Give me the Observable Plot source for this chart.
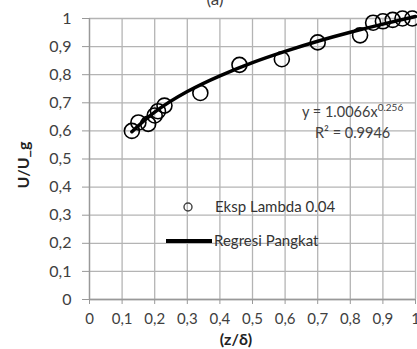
<!DOCTYPE html>
<html>
<head>
<meta charset="utf-8">
<script src="https://cdn.jsdelivr.net/npm/d3@7"></script>
<script src="https://cdn.jsdelivr.net/npm/@observablehq/plot@0.6"></script>
<style>
  html, body { margin: 0; padding: 0; background: #fff; }
</style>
</head>
<body>
<div id="chart"></div>
<script>
// Measured points (Eksp Lambda 0.04)
const zDelta = [0.13, 0.15, 0.18, 0.20, 0.21, 0.23, 0.34, 0.46, 0.59, 0.70, 0.83, 0.87, 0.90, 0.93, 0.96, 0.99];
const uRatio = [0.60, 0.63, 0.625, 0.655, 0.67, 0.69, 0.735, 0.835, 0.855, 0.915, 0.94, 0.985, 0.99, 0.995, 1.0, 1.0];
// Regression curve (Regresi Pangkat)
const fitX = [0.13, 0.2, 0.3, 0.4, 0.5, 0.6, 0.7, 0.8, 0.9, 1.0];
const fitY = [0.597, 0.667, 0.740, 0.796, 0.843, 0.883, 0.919, 0.951, 0.980, 1.007];
// Ticks
const ticks = [0, 0.1, 0.2, 0.3, 0.4, 0.5, 0.6, 0.7, 0.8, 0.9, 1];
const tickLabels = ["0", "0,1", "0,2", "0,3", "0,4", "0,5", "0,6", "0,7", "0,8", "0,9", "1"];
const seriesNames = ["Eksp Lambda 0.04", "Regresi Pangkat"];
const equation = ["y = 1.0066x", "0.256"];
const rSquared = "R² = 0.9946";

const points = zDelta.map((x, i) => ({x, y: uRatio[i]}));
const fit = fitX.map((x, i) => ({x, y: fitY[i]}));
const fmt = d => tickLabels[Math.round(d * 10)];

function annotations(index, scales, values, dims) {
  const g = d3.create("svg:g").attr("font-family", "Lato, 'Open Sans', sans-serif")
    .attr("text-anchor", "start");
  // cropped title
  g.append("text").attr("x", 215).attr("y", 5).attr("text-anchor", "middle")
    .attr("font-size", 17).attr("fill", "#404040").text("(a)");
  // equation
  const eq = g.append("text").attr("x", 302).attr("y", 117).attr("font-size", 14.5).attr("fill", "#404040");
  eq.append("tspan").text(equation[0]);
  eq.append("tspan").attr("dy", -6).attr("font-size", 10).text(equation[1]);
  g.append("text").attr("x", 315).attr("y", 138).attr("font-size", 14.5).attr("fill", "#404040").text(rSquared);
  // legend
  g.append("circle").attr("cx", 188).attr("cy", 207).attr("r", 4)
    .attr("fill", "none").attr("stroke", "#404040").attr("stroke-width", 1.4);
  g.append("text").attr("x", 215).attr("y", 207).attr("dy", "0.35em").attr("font-size", 15)
    .attr("fill", "#333").text(seriesNames[0]);
  g.append("line").attr("x1", 166).attr("x2", 212).attr("y1", 241).attr("y2", 241)
    .attr("stroke", "black").attr("stroke-width", 4);
  g.append("text").attr("x", 214).attr("y", 241).attr("dy", "0.35em").attr("font-size", 15)
    .attr("fill", "#333").text(seriesNames[1]);
  // axis labels
  g.append("text").attr("x", 236).attr("y", 339).attr("dy", "0.35em").attr("text-anchor", "middle")
    .attr("font-size", 16).attr("font-weight", "bold").attr("fill", "#222").text("(z/δ)");
  g.append("text").attr("transform", "translate(23,165) rotate(-90)").attr("dy", "0.35em")
    .attr("text-anchor", "middle").attr("font-size", 16).attr("font-weight", "bold")
    .attr("fill", "#222").text("U/U_g");
  return g.node();
}

const chart = Plot.plot({
  width: 417,
  height: 349,
  marginLeft: 89,
  marginRight: 2,
  marginTop: 18,
  marginBottom: 50,
  style: {fontFamily: "Lato, 'Open Sans', sans-serif", color: "#404040", background: "#fff"},
  x: {domain: [0, 1], ticks, tickFormat: fmt},
  y: {domain: [0, 1], ticks, tickFormat: fmt},
  marks: [
    Plot.gridX(ticks, {stroke: "#b4b4b4", strokeOpacity: 1, strokeWidth: 1.3}),
    Plot.gridY(ticks, {stroke: "#b4b4b4", strokeOpacity: 1, strokeWidth: 1.3}),
    Plot.axisX({ticks, tickFormat: fmt, tickSize: 5, tickPadding: 9, fontSize: 15, label: null, stroke: "#999"}),
    Plot.axisY({ticks, tickFormat: fmt, tickSize: 7, tickPadding: 11, fontSize: 16, label: null, stroke: "#999"}),
    Plot.ruleY([0], {stroke: "#999", strokeWidth: 1.3}),
    Plot.ruleX([0], {stroke: "#999", strokeWidth: 1.3}),
    annotations,
    Plot.line(fit, {x: "x", y: "y", curve: "natural", stroke: "black", strokeWidth: 3.5}),
    Plot.dot(points, {x: "x", y: "y", r: 7.5, stroke: "black", strokeWidth: 1.6, fill: "none"})
  ]
});
document.getElementById("chart").appendChild(chart);
</script>
</body>
</html>
